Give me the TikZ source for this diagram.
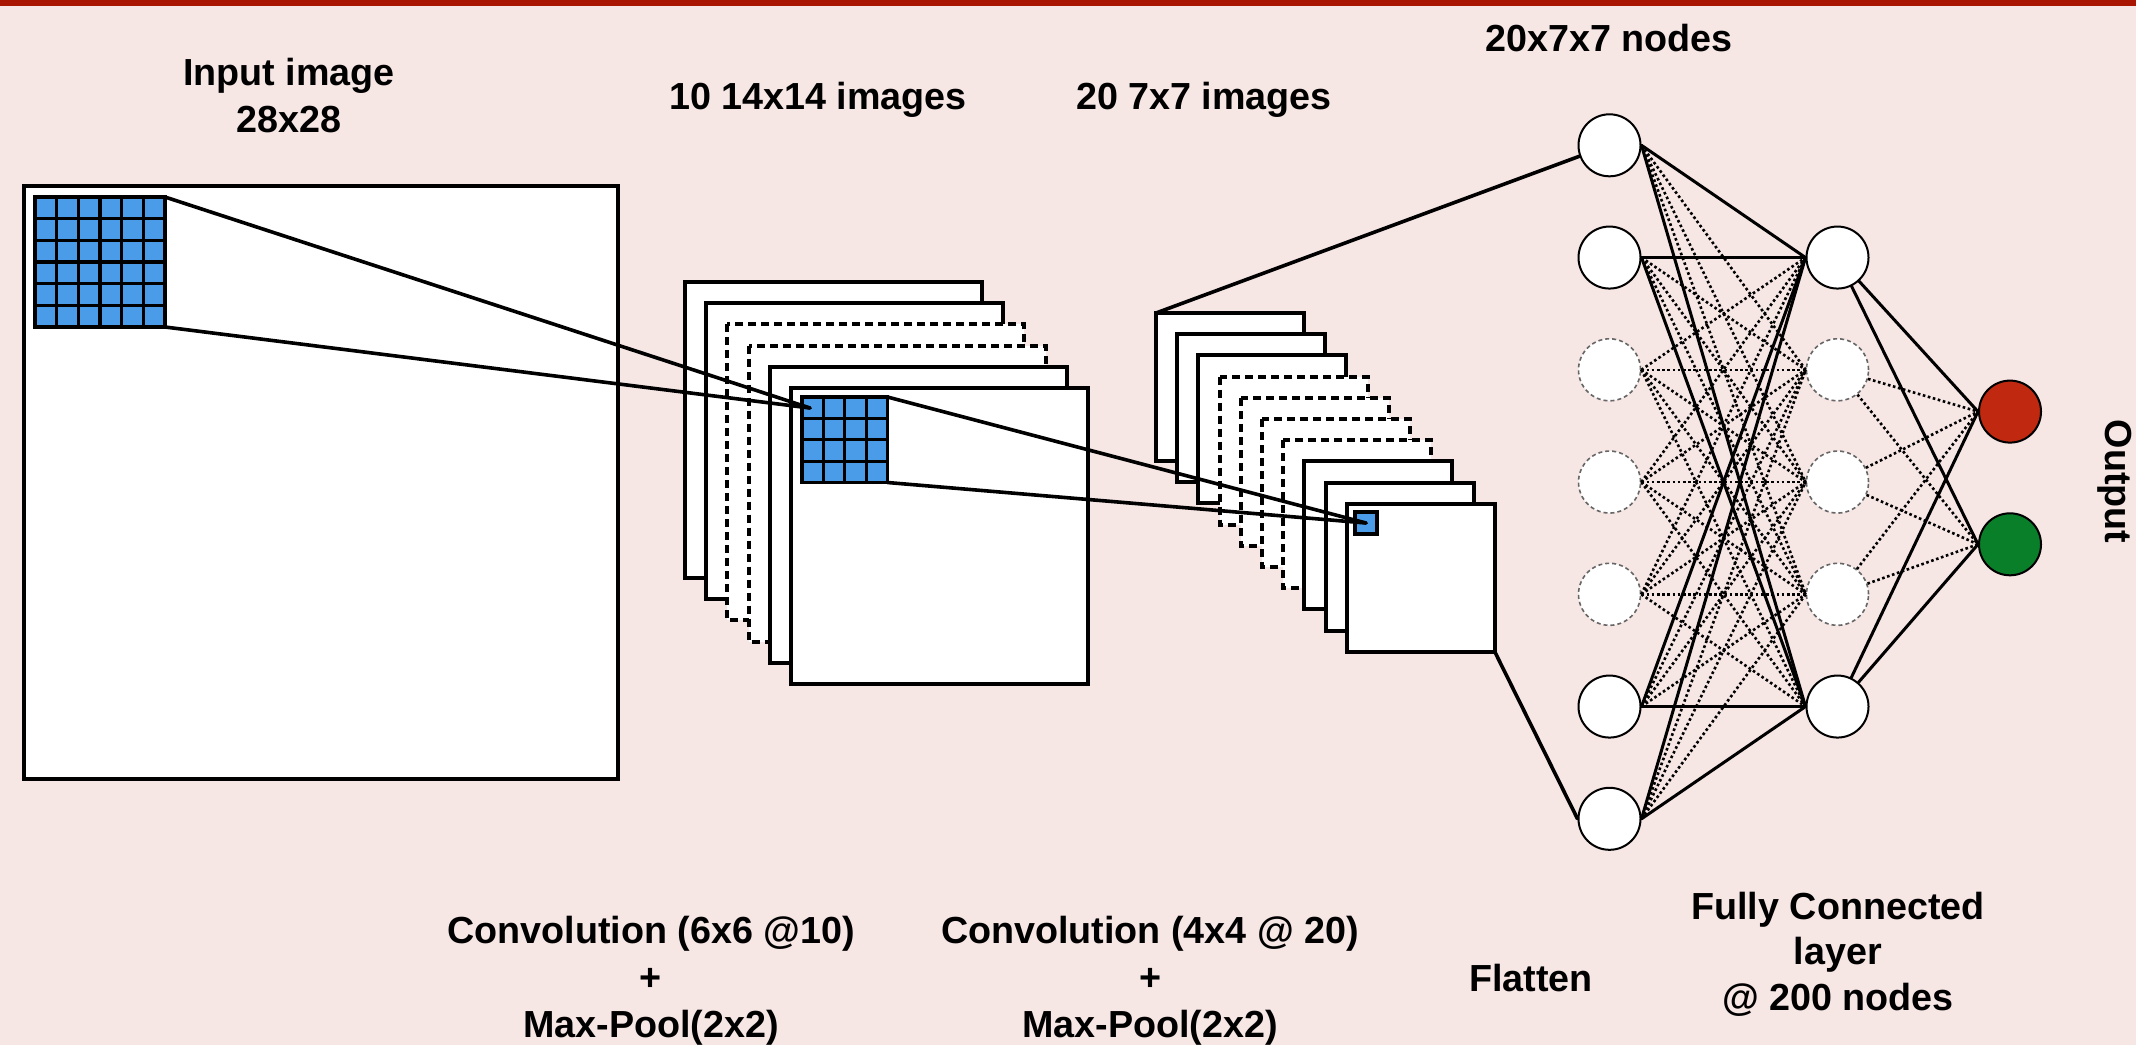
\documentclass[tikz,border=0pt]{standalone}
\usepackage{fontspec}
\setmainfont{Liberation Sans}
\definecolor{bgpink}{HTML}{F6E6E4}
\definecolor{barred}{HTML}{A81500}
\definecolor{cellblue}{HTML}{4A9BE8}
\definecolor{outred}{HTML}{C0290F}
\definecolor{outgreen}{HTML}{0A7F2A}
\begin{document}
\begin{tikzpicture}[x=1pt,y=-1pt,
  lbl/.style={font=\fontsize{37.7}{47}\selectfont\bfseries, inner sep=0pt, align=center},
  sheet/.style={draw=black, fill=white, line width=4pt},
  dsheet/.style={sheet, dash pattern=on 8pt off 5pt},
  link/.style={line width=3.6pt, line cap=round},
  gridline/.style={line width=3.2pt},
  neuron/.style={circle, minimum size=62pt, inner sep=0pt, fill=white, draw=black, line width=2pt},
  hidneuron/.style={neuron, draw=black!60, line width=1.6pt, dash pattern=on 4pt off 3pt},
  full/.style={line width=3pt, line cap=round},
  weak/.style={line width=2.6pt, dash pattern=on 2.6pt off 2.6pt},
]
\fill[bgpink] (0,0) rectangle (2136,1045);
\fill[barred] (0,0) rectangle (2136,6);
\useasboundingbox (0,0) rectangle (2136,1045);

% input image
\draw[sheet] (24,186) rectangle (618,779);
\fill[cellblue] (35,197) rectangle (165,327);
\foreach \i in {1,...,5} {
  \draw[gridline] ({35+\i*21.667},197) -- ({35+\i*21.667},327);
  \draw[gridline] (35,{197+\i*21.667}) -- (165,{197+\i*21.667});
}
\draw[gridline] (35,197) rectangle (165,327);
\coordinate (g1tr) at (165,197);
\coordinate (g1br) at (165,327);

% stack of 10 14x14 images
\foreach \k/\s in {0/sheet,1/sheet,2/dsheet,3/dsheet,4/sheet,5/sheet}
  \draw[\s] ({685+21.2*\k},{282+21.2*\k}) rectangle +(297,296);
\fill[cellblue] (802,397) rectangle (887.5,482.5);
\foreach \i in {1,...,3} {
  \draw[gridline] ({802+\i*21.375},397) -- ({802+\i*21.375},482.5);
  \draw[gridline] (802,{397+\i*21.375}) -- (887.5,{397+\i*21.375});
}
\draw[gridline] (802,397) rectangle (887.5,482.5);
\coordinate (g2in) at (810,408);
\coordinate (g2tr) at (887.5,397);
\coordinate (g2br) at (887.5,482.5);

% stack of 20 7x7 images
\foreach \k/\s in {0/sheet,1/sheet,2/sheet,3/dsheet,4/dsheet,5/dsheet,6/dsheet,7/sheet,8/sheet,9/sheet}
  \draw[\s] ({1156+21.2*\k},{313+21.2*\k}) rectangle +(148,148);
\draw[fill=cellblue, line width=3.2pt] (1355,512) rectangle (1377,534);
\coordinate (g3in) at (1366,523);
\coordinate (s3tl) at (1156,313);
\coordinate (s3br) at (1494.8,651.8);

% receptive field connectors
\draw[link] (g1tr) -- (g2in);
\draw[link] (g1br) -- (g2in);
\draw[link] (g2tr) -- (g3in);
\draw[link] (g2br) -- (g3in);

% neurons
\foreach \k/\st in {1/neuron,2/neuron,3/hidneuron,4/hidneuron,5/hidneuron,6/neuron,7/neuron}
  \node[\st] (n\k) at (1609.5,{33.05+112.25*\k}) {};
\foreach \k/\st in {1/neuron,2/hidneuron,3/hidneuron,4/hidneuron,5/neuron}
  \node[\st] (m\k) at (1837.5,{145.3+112.25*\k}) {};
\node[neuron, fill=outred] (o1) at (2010,411.6) {};
\node[neuron, fill=outgreen] (o2) at (2010,544.3) {};

% flatten connectors
\draw[link] (s3tl) -- (n1.200);
\draw[link] (s3br) -- (n7.west);

% dense connections
\foreach \i/\a in {1/1,2/1,3/0,4/0,5/0,6/1,7/1}
  \foreach \j/\b in {1/1,2/0,3/0,4/0,5/1} {
    \pgfmathtruncatemacro\both{\a*\b}
    \ifnum\both=0 \draw[weak] (n\i.east) -- (m\j.west); \fi
  }
\foreach \i in {1,2,6,7}
  \foreach \j in {1,5}
    \draw[full] (n\i.east) -- (m\j.west);
\foreach \j in {2,3,4}
  \foreach \o in {1,2}
    \draw[weak] (m\j) -- (o\o.west);
\foreach \j in {1,5}
  \foreach \o in {1,2}
    \draw[full] (m\j) -- (o\o.west);

% labels (anchor=base is the baseline of the last line)
\node[lbl, anchor=base] (tin) at (289,132) {Input image\\28x28};
\node[lbl, anchor=base] (t2) at (818,109) {10 14x14 images};
\node[lbl, anchor=base] (t3) at (1204,109) {20 7x7 images};
\node[lbl, anchor=base] (t4) at (1609,51) {20x7x7 nodes};
\node[lbl, anchor=base] (b1) at (651,1037) {Convolution (6x6 @10)\\+\\Max-Pool(2x2)};
\node[lbl, anchor=base] (b2) at (1150,1037) {Convolution (4x4 @ 20)\\+\\Max-Pool(2x2)};
\node[lbl, anchor=base] (b3) at (1531,991) {Flatten};
\node[lbl, anchor=base, font=\fontsize{37.7}{45.5}\selectfont\bfseries] (b4) at (1838,1010) {Fully Connected\\layer\\@ 200 nodes};
\node[lbl, anchor=base, rotate=-90] (out) at (2105,481.5) {Output};
\end{tikzpicture}
\end{document}
